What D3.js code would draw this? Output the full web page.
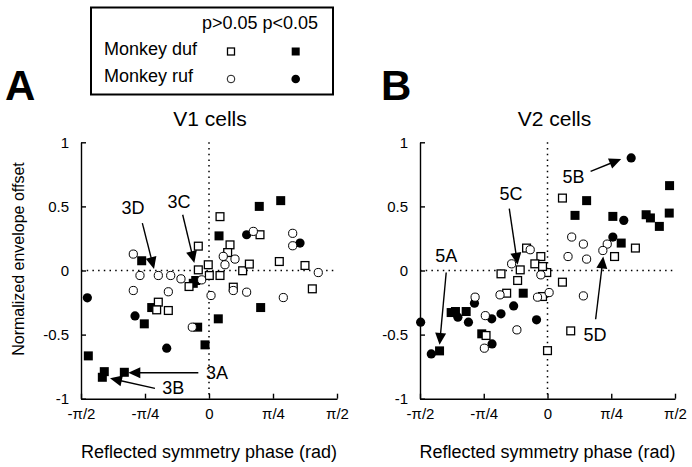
<!DOCTYPE html>
<html>
<head>
<meta charset="utf-8">
<script src="https://cdn.jsdelivr.net/npm/d3@7"></script>
<style>
  html, body { margin: 0; padding: 0; background: #fff; }
  svg text { font-family: "Liberation Sans", Arial, Helvetica, sans-serif; fill: #000; }
</style>
</head>
<body>
<svg id="chart" width="692" height="467"></svg>
<script>
// ---------- DATA (x: reflected symmetry phase in rad, y: normalized envelope offset) ----------
const xTickValues = [-Math.PI/2, -Math.PI/4, 0, Math.PI/4, Math.PI/2];
const xTickLabels = ["-\u03C0/2", "-\u03C0/4", "0", "\u03C0/4", "\u03C0/2"];
const yTickValues = [-1, -0.5, 0, 0.5, 1];
const yTickLabels = ["-1", "-0.5", "0", "0.5", "1"];

// Panel A : V1 cells
const v1DufNS = [[-0.131,0.19],[-0.009,0.045],[-0.131,0.005],[0.004,-0.039],[-0.245,-0.125],[0.135,0.42],[0.258,0.2],[0.229,0.14],[0.135,-0.039],[0.413,-0.002],[0.495,0.05],[0.626,0.279],[0.863,0.07],[1.178,0.039],[-0.622,-0.247],[-0.642,-0.307],[-0.499,-0.312],[0.298,-0.13],[1.268,-0.143]];
const v1DufSig = [[-0.826,0.076],[-0.193,-0.10],[-0.163,-0.078],[0.123,0.27],[0.617,0.5],[0.88,0.545],[-0.703,-0.289],[-0.794,-0.416],[-0.139,-0.442],[0.114,-0.377],[-0.049,-0.58],[-1.481,-0.666],[-1.285,-0.789],[-1.309,-0.833],[-1.039,-0.794],[0.634,-0.289]];
const v1RufNS = [[-0.929,0.128],[-0.847,-0.039],[-0.622,-0.039],[-0.470,-0.039],[-0.344,-0.065],[-0.09,-0.073],[0.175,0.11],[0.319,0.089],[0.196,0.045],[0.544,0.305],[1.027,0.29],[1.027,0.193],[1.341,-0.016],[-0.929,-0.156],[-0.499,-0.166],[-0.205,-0.442],[0.025,-0.195],[0.298,-0.156],[0.462,-0.169],[0.912,-0.211]];
const v1RufSig = [[0.462,0.279],[1.117,0.214],[-1.493,-0.213],[-0.908,-0.354],[-0.519,-0.606]];

// Panel B : V2 cells
const v2DufNS = [[0.184,0.565],[0.826,0.109],[1.083,0.175],[-0.258,0.175],[-0.082,0.109],[-0.156,0.052],[-0.336,0.005],[-0.009,-0.016],[-0.061,0.031],[-0.573,-0.026],[-0.368,-0.078],[0.184,-0.091],[-0.503,-0.177],[-0.061,-0.203],[0.286,-0.471],[0.0,-0.625],[-0.757,-0.507]];
const v2DufSig = [[1.504,0.662],[0.482,0.545],[0.339,0.43],[0.805,0.422],[1.215,0.435],[1.268,0.41],[1.378,0.344],[1.5,0.448],[0.908,0.214],[-0.299,-0.177],[-1.187,-0.328],[-1.134,-0.32],[-1.002,-0.32],[-0.81,-0.494],[-1.33,-0.627]];
const v2RufNS = [[0.298,0.261],[0.442,0.206],[0.736,0.206],[0.682,0.156],[0.253,0.109],[0.482,0.089],[-0.213,0.162],[-0.442,0.052],[-0.082,-0.034],[-0.585,-0.19],[-0.123,-0.208],[0.02,-0.172],[0.442,-0.198],[-0.892,-0.208],[-0.766,-0.352],[-0.377,-0.463],[-0.778,-0.606]];
const v2RufSig = [[1.031,0.878],[0.94,0.391],[0.805,0.261],[-0.9,-0.255],[-0.417,-0.276],[-1.104,-0.364],[-0.974,-0.403],[-0.687,-0.377],[-0.573,-0.338],[-0.135,-0.385],[-1.563,-0.403],[-0.683,-0.573],[-1.432,-0.651]];

// Annotations: label, label position, label anchor, arrow start, arrow tip (data coords)
const v1Notes = [
  {label:"3D", lx:-0.933, ly:0.49,  anchor:"middle", x1:-0.818, y1:0.37,   x2:-0.675, y2:0.011},
  {label:"3C", lx:-0.368, ly:0.539, anchor:"middle", x1:-0.323, y1:0.435,  x2:-0.180, y2:0.058},
  {label:"3A", lx:-0.037, ly:-0.797,anchor:"start",  x1:-0.131, y1:-0.797, x2:-0.99,  y2:-0.797},
  {label:"3B", lx:-0.573, ly:-0.916,anchor:"start",  x1:-0.663, y1:-0.919, x2:-1.215, y2:-0.841}
];
const v2Notes = [
  {label:"5B", lx:0.184,  ly:0.734, anchor:"start",  x1:0.531,  y1:0.773,  x2:0.908,  y2:0.870},
  {label:"5C", lx:-0.450, ly:0.599, anchor:"middle", x1:-0.471, y1:0.482,  x2:-0.368, y2:0.045},
  {label:"5A", lx:-1.248, ly:0.115, anchor:"middle", x1:-1.248, y1:-0.016, x2:-1.330, y2:-0.580},
  {label:"5D", lx:0.445,  ly:-0.502,anchor:"start",  x1:0.593,  y1:-0.380, x2:0.687,  y2:0.109}
];

const legendColumns = ["p>0.05", "p<0.05"];
const legendRows = ["Monkey duf", "Monkey ruf"];

// ---------- DRAWING ----------
const svg = d3.select("#chart");
const SQ = 9, CR = 4.6;

function arrow(g, x1, y1, x2, y2) {
  const dx = x2 - x1, dy = y2 - y1, L = Math.hypot(dx, dy);
  const ux = dx / L, uy = dy / L, hl = 12, hw = 5.5;
  const bx = x2 - ux * hl, by = y2 - uy * hl;
  g.append("line").attr("x1", x1).attr("y1", y1).attr("x2", bx + ux*2).attr("y2", by + uy*2)
    .attr("stroke", "#000").attr("stroke-width", 1.4);
  g.append("path")
    .attr("d", `M${x2},${y2}L${bx - uy*hw},${by + ux*hw}L${bx + uy*hw},${by - ux*hw}Z`)
    .attr("fill", "#000");
}

function panel(cfg) {
  const x = d3.scaleLinear().domain([-Math.PI/2, Math.PI/2]).range([cfg.x0, cfg.x1]);
  const y = d3.scaleLinear().domain([-1, 1]).range([398.7, 142.3]);
  const g = svg.append("g");

  // dotted zero lines
  g.append("line").attr("x1", x(0)).attr("x2", x(0)).attr("y1", y(1)).attr("y2", y(-1))
    .attr("stroke", "#000").attr("stroke-width", 1.5).attr("stroke-dasharray", "1.5,4.2");
  g.append("line").attr("x1", x(-Math.PI/2)).attr("x2", x(Math.PI/2)).attr("y1", y(0)).attr("y2", y(0))
    .attr("stroke", "#000").attr("stroke-width", 1.5).attr("stroke-dasharray", "1.5,4.2");

  // axes
  const xAxis = d3.axisBottom(x).tickValues(xTickValues)
    .tickFormat((d, i) => xTickLabels[i]).tickSizeInner(-5).tickSizeOuter(0).tickPadding(10);
  const gx = g.append("g").attr("transform", `translate(0,${y(-1)})`).call(xAxis);
  const yAxis = d3.axisLeft(y).tickValues(yTickValues)
    .tickFormat((d, i) => yTickLabels[i]).tickSizeInner(-5).tickSizeOuter(0).tickPadding(12);
  const gy = g.append("g").attr("transform", `translate(${x(-Math.PI/2)},0)`).call(yAxis);
  [gx, gy].forEach(a => {
    a.select(".domain").attr("stroke", "#000").attr("stroke-width", 1.4);
    a.selectAll(".tick line").attr("stroke", "#000").attr("stroke-width", 1.4);
    a.selectAll(".tick text").attr("font-size", 15).attr("font-family", '"Liberation Sans", Arial, sans-serif').attr("fill", "#000");
  });

  // points: filled first, open on top
  g.selectAll(null).data(cfg.dufSig).enter().append("rect")
    .attr("x", d => x(d[0]) - SQ/2).attr("y", d => y(d[1]) - SQ/2).attr("width", SQ).attr("height", SQ)
    .attr("fill", "#000");
  g.selectAll(null).data(cfg.rufSig).enter().append("circle")
    .attr("cx", d => x(d[0])).attr("cy", d => y(d[1])).attr("r", CR).attr("fill", "#000");
  g.selectAll(null).data(cfg.dufNS).enter().append("rect")
    .attr("x", d => x(d[0]) - SQ/2 + 0.6).attr("y", d => y(d[1]) - SQ/2 + 0.6)
    .attr("width", SQ - 1.2).attr("height", SQ - 1.2)
    .attr("fill", "#fff").attr("stroke", "#000").attr("stroke-width", 1.3);
  g.selectAll(null).data(cfg.rufNS).enter().append("circle")
    .attr("cx", d => x(d[0])).attr("cy", d => y(d[1])).attr("r", CR - 0.5)
    .attr("fill", "#fff").attr("stroke", "#000").attr("stroke-width", 1.0);

  // annotations
  cfg.notes.forEach(n => {
    arrow(g, x(n.x1), y(n.y1), x(n.x2), y(n.y2));
    g.append("text").attr("x", x(n.lx)).attr("y", y(n.ly)).attr("dy", "0.36em")
      .attr("text-anchor", n.anchor).attr("font-size", 18).text(n.label);
  });

  // title and x label
  g.append("text").attr("x", x(0) + cfg.titleShift).attr("y", 126).attr("text-anchor", "middle")
    .attr("font-size", 21).text(cfg.title);
  g.append("text").attr("x", x(0)).attr("y", 458).attr("text-anchor", "middle")
    .attr("font-size", 18).text("Reflected symmetry phase (rad)");
  g.append("text").attr("x", cfg.letterX).attr("y", 100).attr("font-size", 42)
    .attr("font-weight", "bold").text(cfg.letter);
}

panel({x0: 81, x1: 337, dufNS: v1DufNS, dufSig: v1DufSig, rufNS: v1RufNS, rufSig: v1RufSig,
       notes: v1Notes, title: "V1 cells", titleShift: 1, letter: "A", letterX: 5});
panel({x0: 420, x1: 675, dufNS: v2DufNS, dufSig: v2DufSig, rufNS: v2RufNS, rufSig: v2RufSig,
       notes: v2Notes, title: "V2 cells", titleShift: 7, letter: "B", letterX: 381});

// y axis label
svg.append("text").attr("transform", "translate(24,259) rotate(-90)")
  .attr("text-anchor", "middle").attr("font-size", 16).text("Normalized envelope offset");

// legend
const lg = svg.append("g");
lg.append("rect").attr("x", 91).attr("y", 7.5).attr("width", 242).attr("height", 87)
  .attr("fill", "none").attr("stroke", "#000").attr("stroke-width", 2);
lg.append("text").attr("x", 202).attr("y", 28.5).attr("font-size", 18)
  .text(legendColumns.join(" "));
const legX = [231, 295.7], legY = [51.5, 79];
legendRows.forEach((r, i) => {
  lg.append("text").attr("x", 104).attr("y", legY[i] + 3).attr("font-size", 18).text(r);
});
lg.append("rect").attr("x", legX[0] - 3.5).attr("y", legY[0] - 3.5).attr("width", 7).attr("height", 7)
  .attr("fill", "#fff").attr("stroke", "#000").attr("stroke-width", 1.3);
lg.append("rect").attr("x", legX[1] - 4).attr("y", legY[0] - 4).attr("width", 8).attr("height", 8)
  .attr("fill", "#000");
lg.append("circle").attr("cx", legX[0]).attr("cy", legY[1]).attr("r", 3.8)
  .attr("fill", "#fff").attr("stroke", "#000").attr("stroke-width", 0.9);
lg.append("circle").attr("cx", legX[1]).attr("cy", legY[1]).attr("r", 4.3).attr("fill", "#000");
</script>
</body>
</html>
